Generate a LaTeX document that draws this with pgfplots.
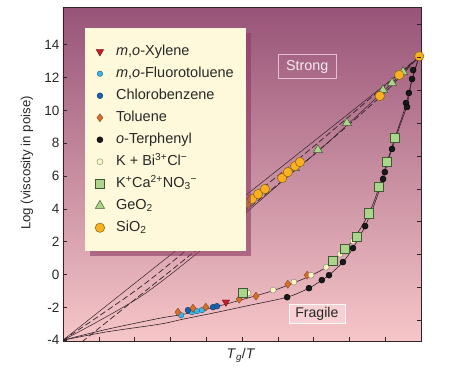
\documentclass[border=0pt]{standalone}
\usepackage{fontspec}
\setmainfont{Liberation Sans}
\usepackage{pgfplots}
\pgfplotsset{compat=1.18}
\usetikzlibrary{shadows}
\definecolor{bgtop}{RGB}{152,84,120}
\definecolor{bgbot}{RGB}{246,198,200}
\definecolor{cream}{RGB}{253,249,218}
\definecolor{shadowc}{RGB}{140,60,100}
\definecolor{linec}{RGB}{50,35,40}
\definecolor{xylc}{RGB}{196,30,40}
\definecolor{flc}{RGB}{60,180,230}
\definecolor{clc}{RGB}{26,96,176}
\definecolor{tolc}{RGB}{216,110,42}
\definecolor{kbic}{RGB}{255,246,190}
\definecolor{grc}{RGB}{170,214,140}
\definecolor{sioc}{RGB}{248,176,32}
\definecolor{txtc}{RGB}{40,40,40}
\begin{document}
\begin{tikzpicture}
\begin{axis}[name=ax,
  scale only axis, width=358pt, height=334pt,
  xmin=0, xmax=1, ymin=-4.05, ymax=16.3,
  xtick={0,0.1,...,1}, xticklabels={},
  ytick={-4,-2,0,2,4,6,8,10,12,14},
  yticklabels={-4,-2,0,2,4,6,8,10,12,14},
  xtick pos=left, ytick pos=left,
  tick align=inside, major tick length=4pt,
  tick style={linec, line width=0.6pt},
  axis line style={linec, line width=0.8pt},
  tick label style={font=\fontsize{13.5}{15}\selectfont, text=txtc},
  axis background/.style={top color=bgtop, bottom color=bgbot},
  ylabel={Log (viscosity in poise)},
  ylabel style={at={(axis description cs:-0.1006,0.533)}, anchor=center, rotate=0, font=\fontsize{13.2}{15}\selectfont, text=txtc},
  xlabel={\textit{T}\textsubscript{\textit{g}}/\textit{T}},
  xlabel style={at={(axis description cs:0.497,-0.042)}, anchor=center, font=\fontsize{14}{16}\selectfont, text=txtc},
  clip=false,
  legend style={at={(0.0615,0.937)}, anchor=north west, draw=none, fill=cream,
    font=\fontsize{14.5}{16}\selectfont, text=txtc,
    inner xsep=10pt, inner ysep=15pt, row sep=5pt,
    nodes={inner sep=2pt, text height=10pt, text depth=3pt},
    drop shadow={shadow xshift=5pt, shadow yshift=-5pt, fill=shadowc, opacity=0.6}},
  legend cell align=left,
  legend image code/.code={\path (0pt,0pt) (17pt,0pt); \draw plot coordinates {(3pt,0pt)};},
]
% ---- strong lines
\addplot[linec, line width=0.5pt, forget plot] coordinates {(0,-4) (1,13.3)};
\addplot[linec, line width=0.7pt, dash pattern=on 6pt off 3pt, forget plot, smooth] coordinates {(0,-4) (0.223,-0.65) (0.453,3.44) (0.7,7.8) (0.995,13.3)};
\addplot[linec, line width=0.7pt, dash pattern=on 6pt off 3pt, forget plot, smooth] coordinates {(0.053,-4.1) (0.223,-1.13) (0.453,2.9) (0.55,4.6) (0.7,7.3) (0.885,10.8) (0.995,13.3)};
\addplot[linec, line width=0.5pt, forget plot, smooth] coordinates {(0,-4) (0.223,-1.25) (0.453,2.7) (0.648,6.35) (0.712,7.5) (0.793,9.1) (0.894,11.15) (0.995,13.3)};
% ---- fragile lines
\addplot[linec, line width=0.6pt, forget plot, smooth] coordinates {(0,-4) (0.12,-3.5) (0.271,-3.02) (0.335,-2.72) (0.43,-2.3) (0.522,-1.87) (0.626,-1.38) (0.687,-0.83) (0.723,-0.34) (0.743,-0.04) (0.782,0.76) (0.810,1.61) (0.844,2.95) (0.870,4.3) (0.894,5.82) (0.905,6.73) (0.919,7.65) (0.94,9.0) (0.961,10.33) (0.975,11.9) (0.995,13.3)};
\addplot[linec, line width=0.6pt, forget plot, smooth] coordinates {(0,-4) (0.12,-3.35) (0.271,-2.66) (0.33,-2.45) (0.40,-2.12) (0.492,-1.58) (0.587,-0.98) (0.645,-0.5) (0.693,-0.06) (0.735,0.45) (0.774,1.24) (0.810,2.10) (0.855,3.74) (0.883,5.33) (0.905,6.85) (0.927,8.32) (0.955,10.15) (0.975,11.85) (0.995,13.3)};
% ---- markers
\addplot[only marks, mark=triangle*, mark size=4.3pt, mark options={rotate=180, fill=xylc, draw=xylc!60!black, line width=0.4pt}] coordinates {(0.455,-1.68)};
\addlegendentry{\textit{m},\textit{o}-Xylene}
\addplot[only marks, mark=*, mark size=2.8pt, mark options={fill=flc, draw=flc!55!black, line width=0.4pt}] coordinates {(0.330,-2.48) (0.360,-2.29) (0.374,-2.23) (0.388,-2.17)};
\addlegendentry{\textit{m},\textit{o}-Fluorotoluene}
\addplot[only marks, mark=*, mark size=2.9pt, mark options={fill=clc, draw=clc!55!black, line width=0.4pt}] coordinates {(0.349,-2.17) (0.419,-1.99) (0.430,-1.93)};
\addlegendentry{Chlorobenzene}
\addplot[only marks, mark=diamond*, mark size=4pt, mark options={fill=tolc, draw=tolc!65!black, line width=0.4pt}] coordinates {(0.321,-2.29) (0.363,-2.05) (0.399,-1.99) (0.492,-1.50) (0.539,-1.32) (0.628,-0.59) (0.682,-0.04)};
\addlegendentry{Toluene}
\addplot[only marks, mark=*, mark size=3pt, mark options={fill=black!90, draw=black, line width=0.4pt}] coordinates {(0.626,-1.38) (0.687,-0.83) (0.723,-0.34) (0.743,-0.04) (0.782,0.76) (0.810,1.61) (0.844,2.95) (0.894,5.82) (0.899,6.24) (0.905,6.73) (0.919,7.65) (0.958,10.45) (0.961,10.21) (0.966,11.06) (0.975,11.91) (0.978,12.46)};
\addlegendentry{\textit{o}-Terphenyl}
\addplot[only marks, mark=*, mark size=3pt, mark options={fill=kbic, draw=black!50, line width=0.4pt}] coordinates {(0.517,-1.13) (0.587,-0.95) (0.645,-0.46) (0.693,-0.04) (0.735,0.45) (0.774,1.24) (0.810,2.04)};
\addlegendentry{K + Bi\textsuperscript{3+}Cl\textsuperscript{−}}
\addplot[only marks, mark=square*, mark size=4.6pt, mark options={fill=grc, draw=grc!40!black, line width=0.5pt}] coordinates {(0.503,-1.13) (0.754,0.82) (0.788,1.55) (0.821,2.28) (0.855,3.74) (0.883,5.33) (0.905,6.85) (0.927,8.32)};
\addlegendentry{K\textsuperscript{+}Ca\textsuperscript{2+}NO\textsubscript{3}\textsuperscript{−}}
\addplot[only marks, mark=triangle*, mark size=5.3pt, mark options={fill=grc, draw=grc!40!black, line width=0.5pt}] coordinates {(0.648,6.49) (0.712,7.59) (0.793,9.23) (0.894,11.24) (0.919,11.67) (0.950,12.34)};
\addlegendentry{GeO\textsubscript{2}}
\addplot[only marks, mark=*, mark size=4.7pt, mark options={fill=sioc, draw=sioc!55!black, line width=0.5pt}] coordinates {(0.500,4.05) (0.514,4.35) (0.528,4.60) (0.545,4.90) (0.564,5.21) (0.612,5.88) (0.628,6.24) (0.648,6.61) (0.662,6.85) (0.885,10.88) (0.939,12.16) (0.995,13.3)};
\addlegendentry{SiO\textsubscript{2}}
% ---- labels
\node[draw={rgb,255:red,232;green,190;blue,210}, line width=0.6pt, minimum width=58pt, minimum height=24pt, inner sep=0pt, text={rgb,255:red,248;green,236;blue,242}, font=\fontsize{14.3}{16}\selectfont] at (axis cs:0.682,12.66) {Strong};
\node[draw=white!90!pink, fill={rgb,255:red,246;green,208;blue,210}, line width=0.6pt, minimum width=56pt, minimum height=19pt, inner sep=0pt, text=txtc, font=\fontsize{14.1}{16}\selectfont] at (axis cs:0.709,-2.41) {Fragile};
\end{axis}
\begin{axis}[at={(ax.south west)}, anchor=south west,
  scale only axis, width=358pt, height=334pt,
  xmin=0, xmax=1, ymin=-4.05, ymax=16.3,
  hide x axis, axis y line*=right, y axis line style={draw=none},
  ytick={-2.78,-0.78,1.22,3.22,5.22,7.22,9.22,11.22,13.22,15.22}, yticklabels={},
  tick align=inside, major tick length=4pt, tick style={linec, line width=0.6pt}]
\addplot[draw=none] coordinates {(0.5,0)};
\end{axis}
\path (ax.south west) ++(-63pt,-27pt) rectangle ++(473pt,368pt);
\end{tikzpicture}
\end{document}
